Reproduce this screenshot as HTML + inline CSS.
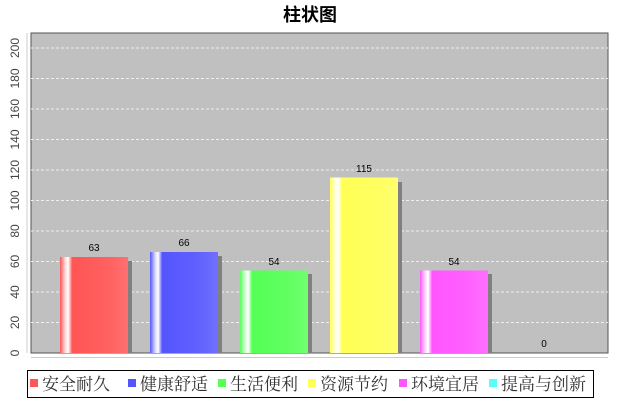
<!DOCTYPE html>
<html><head><meta charset="utf-8"><style>body{margin:0;background:#fff}</style></head><body>
<svg width="620" height="400" xmlns="http://www.w3.org/2000/svg" font-family="Liberation Sans, Noto Sans CJK SC, sans-serif">
<defs>
<linearGradient id="gr" x1="0" x2="1"><stop offset="0" stop-color="#ff5555"/><stop offset=".08" stop-color="#ffdddd"/><stop offset=".12" stop-color="#fff"/><stop offset=".18" stop-color="#ff5555"/><stop offset=".7" stop-color="#ff6060"/><stop offset="1" stop-color="#ff7070"/></linearGradient>
<linearGradient id="gb" x1="0" x2="1"><stop offset="0" stop-color="#5555ff"/><stop offset=".08" stop-color="#ddddff"/><stop offset=".12" stop-color="#fff"/><stop offset=".18" stop-color="#5555ff"/><stop offset=".7" stop-color="#6060ff"/><stop offset="1" stop-color="#7070ff"/></linearGradient>
<linearGradient id="gg" x1="0" x2="1"><stop offset="0" stop-color="#55ff55"/><stop offset=".08" stop-color="#ddffdd"/><stop offset=".12" stop-color="#fff"/><stop offset=".18" stop-color="#55ff55"/><stop offset=".7" stop-color="#60ff60"/><stop offset="1" stop-color="#70ff70"/></linearGradient>
<linearGradient id="gy" x1="0" x2="1"><stop offset="0" stop-color="#ffff55"/><stop offset=".08" stop-color="#ffffdd"/><stop offset=".12" stop-color="#fff"/><stop offset=".18" stop-color="#ffff55"/><stop offset=".7" stop-color="#ffff60"/><stop offset="1" stop-color="#ffff70"/></linearGradient>
<linearGradient id="gm" x1="0" x2="1"><stop offset="0" stop-color="#ff55ff"/><stop offset=".08" stop-color="#ffddff"/><stop offset=".12" stop-color="#fff"/><stop offset=".18" stop-color="#ff55ff"/><stop offset=".7" stop-color="#ff60ff"/><stop offset="1" stop-color="#ff70ff"/></linearGradient>
</defs>
<text x="310" y="21" text-anchor="middle" font-size="18" font-weight="bold">柱状图</text>
<rect x="31" y="33" width="577" height="320" fill="#c0c0c0" stroke="#555" stroke-width="1"/>
<g stroke="#eee" stroke-dasharray="3,2" stroke-width="1">
<line x1="31" x2="608" y1="322.5" y2="322.5"/><line x1="31" x2="608" y1="292" y2="292"/><line x1="31" x2="608" y1="261.5" y2="261.5"/><line x1="31" x2="608" y1="231" y2="231"/><line x1="31" x2="608" y1="200.5" y2="200.5"/><line x1="31" x2="608" y1="170" y2="170"/><line x1="31" x2="608" y1="139.5" y2="139.5"/><line x1="31" x2="608" y1="109" y2="109"/><line x1="31" x2="608" y1="78.5" y2="78.5"/><line x1="31" x2="608" y1="48" y2="48"/>
</g>
<line x1="27" x2="27" y1="33" y2="353" stroke="#ccc"/>
<line x1="31" x2="608" y1="357.5" y2="357.5" stroke="#ccc"/>
<g font-size="12" fill="#444" text-anchor="middle">
<text transform="translate(19,353) rotate(-90)">0</text>
<text transform="translate(19,322.5) rotate(-90)">20</text>
<text transform="translate(19,292) rotate(-90)">40</text>
<text transform="translate(19,261.5) rotate(-90)">60</text>
<text transform="translate(19,231) rotate(-90)">80</text>
<text transform="translate(19,200.5) rotate(-90)">100</text>
<text transform="translate(19,170) rotate(-90)">120</text>
<text transform="translate(19,139.5) rotate(-90)">140</text>
<text transform="translate(19,109) rotate(-90)">160</text>
<text transform="translate(19,78.5) rotate(-90)">180</text>
<text transform="translate(19,48) rotate(-90)">200</text>
</g>
<g fill="#808080">
<rect x="64" y="261" width="68" height="92"/><rect x="154" y="256" width="68" height="97"/><rect x="244" y="274" width="68" height="79"/><rect x="334" y="182" width="68" height="171"/><rect x="424" y="274" width="68" height="79"/>
</g>
<rect x="60" y="257" width="68" height="96" fill="url(#gr)"/>
<rect x="150" y="252" width="68" height="101" fill="url(#gb)"/>
<rect x="240" y="270.5" width="68" height="82.5" fill="url(#gg)"/>
<rect x="330" y="177.5" width="68" height="175.5" fill="url(#gy)"/>
<rect x="420" y="270.5" width="68" height="82.5" fill="url(#gm)"/>
<g font-size="10" text-anchor="middle">
<text x="94" y="251">63</text><text x="184" y="246">66</text><text x="274" y="265">54</text><text x="364" y="172">115</text><text x="454" y="265">54</text><text x="544" y="347">0</text>
</g>
<rect x="27.5" y="370.5" width="566" height="27" fill="#fff" stroke="#000"/>
<g font-size="17" fill="#333" font-family="Liberation Serif, Noto Serif CJK SC, serif">
<rect x="30" y="379" width="8" height="8" fill="#ff5555"/><text x="42" y="390">安全耐久</text>
<rect x="128" y="379" width="8" height="8" fill="#5555ff"/><text x="140" y="390">健康舒适</text>
<rect x="218" y="379" width="8" height="8" fill="#55ff55"/><text x="230" y="390">生活便利</text>
<rect x="308" y="379" width="8" height="8" fill="#ffff55"/><text x="320" y="390">资源节约</text>
<rect x="399" y="379" width="8" height="8" fill="#ff55ff"/><text x="411" y="390">环境宜居</text>
<rect x="489" y="379" width="8" height="8" fill="#55ffff"/><text x="501" y="390">提高与创新</text>
</g>
</svg>
</body></html>
